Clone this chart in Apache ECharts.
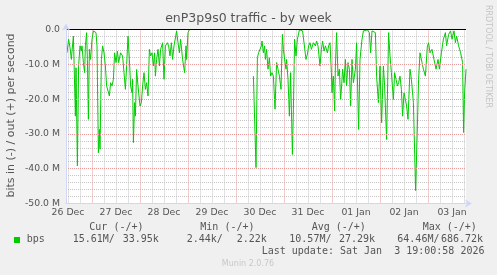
<!DOCTYPE html>
<html><head><meta charset="utf-8">
<script src="https://cdn.jsdelivr.net/npm/echarts@6/dist/echarts.min.js"></script>
<style>html,body{margin:0;padding:0;background:#f0f0f0}#c{width:497px;height:275px}</style>
</head><body><div id="c"></div>
<script>
// x values: hours since 26 Dec 00:00; y values: Mbit/s (in = negative)
const hours1 = [
 11.5,12.3,13.0,13.3,13.7,14.0,14.7,15.7,16.0,16.7,
 17.3,18.0,18.7,19.0,19.7,20.3,20.7,21.3,21.7,22.2,
 22.7,23.3,24.0,24.7,25.3,26.0,26.5,27.2,27.7,28.0,
 28.7,29.3,30.0,30.7,31.3,32.0,32.7,33.3,34.0,34.7,
 35.3,36.0,36.7,37.3,38.3,39.3,40.0,40.7,41.3,42.0,
 42.7,43.3,44.0,44.3,44.7,45.3,45.7,46.0,46.3,47.0,
 48.0,48.7,49.3,50.0,50.7,51.3,52.0,52.7,53.3,54.0,
 54.7,55.3,55.7,56.3,57.0,57.7,58.3,59.3,60.0,60.7,
 61.7,62.3,63.0,63.7,64.3,65.0,66.3,67.0,67.7,68.3,
 69.3,70.3,71.0,71.3,72.0,72.7];
const inValues1 = [
 -6.7,-2.8,-5.2,-4.7,-8.6,-6.2,-1.9,-24.9,-11.0,-39.2,
 -10.5,-4.7,-6.2,-4.7,-9.5,-12.4,-4.7,-0.9,-8.6,-25.8,
 -5.7,-8.6,-2.8,-0.4,-0.1,-0.9,-4.7,-35.4,-28.7,-34.4,
 -8.6,-4.7,-6.7,-10.5,-16.2,-16.7,-19.1,-15.3,-16.2,-14.3,
 -6.7,-9.5,-6.2,-9.5,-6.7,-7.6,-12.4,-17.2,-10.5,-1.9,
 -8.6,-16.2,-18.2,-14.3,-32.5,-21.0,-24.9,-18.2,-11.5,-16.2,
 -22.0,-21.0,-16.2,-12.4,-17.2,-15.3,-19.1,-5.7,-7.6,-6.7,
 -10.5,-6.7,-13.4,-8.6,-5.7,-10.5,-5.7,-3.8,-14.3,-4.7,
 -3.8,-4.7,-7.6,-3.8,-8.6,-4.7,-0.4,-3.8,-6.7,-2.8,
 -8.6,-12.4,-4.7,-8.6,-0.9,-0.1];
const hours2 = [
 104.7,105.0,106.0,106.7,107.3,108.0,108.7,109.0,109.7,110.3,
 110.7,111.3,112.0,112.7,113.3,114.0,114.7,115.5,116.3,117.0,
 117.7,118.5,119.2,119.7,120.3,121.0,121.3,122.0,122.7,123.3,
 124.2,124.7,125.3,126.0,126.7,127.7,128.7,129.3,130.3,131.0,
 131.7,132.3,133.0,133.7,134.7,135.7,136.3,137.0,138.0,138.7,
 139.3,140.0,140.7,141.7,142.3,143.0,143.7,144.0,144.3,144.7,
 145.3,145.7,146.3,147.0,147.7,148.3,148.7,149.3,150.0,150.7,
 151.3,152.0,152.7,153.3,154.0,154.7,
 155.7,156.3,157.3,158.0,159.0,159.7,160.7,161.7,162.7,163.3,164.0,165.0,165.7,
 166.3,167.2,168.0,168.8,169.7,170.3,171.3,172.3,173.0,173.7,174.7,
 175.3,176.0,176.7,177.3,178.0,178.7,179.3,180.0,180.7,181.3,
 182.0,183.0,183.7,184.7,185.8,186.7,187.3,188.0,189.0,189.7,
 190.7,191.7,192.3,193.0,194.0,195.0,196.0,197.0,197.7,198.7,
 199.7,200.7,201.3,202.3,203.3,204.0,205.0,205.7,206.3,207.3,
 208.3,209.3,209.8,210.3,211.0];
const inValues2 = [
 -13.4,-12.9,-39.7,-8.1,-6.7,-6.2,-4.7,-3.3,-6.7,-4.7,
 -8.6,-5.7,-11.4,-8.1,-13.4,-12.4,-13.4,-22.9,-9.5,-11.4,
 -13.4,-17.2,-1.4,-5.7,-8.6,-11.4,-8.6,-14.3,-24.9,-12.4,
 -35.9,-22.9,-2.8,-7.6,-2.8,-0.1,-0.4,-0.4,-0.1,-8.6,
 -7.1,-4.7,-3.8,-5.7,-3.8,-4.7,-3.3,-4.7,-10.5,-5.7,
 -3.3,-6.2,-4.7,-6.7,-4.7,-3.8,-12.4,-18.2,-15.3,-13.4,
 -23.4,-10.5,-0.9,-13.4,-11.4,-20.1,-17.2,-11.4,-15.3,-8.6,
 -16.2,-9.5,-11.4,-22.0,-8.6,-15.3,
 -11.4,-3.8,-28.7,-8.6,-2.8,-0.4,-0.4,-0.1,-0.9,-6.7,-0.4,-0.1,-0.9,
 -13.4,-21.0,-10.5,-26.8,-10.5,-16.2,-31.6,-0.9,-7.6,-12.4,-20.1,
 -12.4,-14.3,-16.2,-15.3,-13.4,-17.2,-24.9,-18.2,-20.1,-22.0,
 -25.8,-11.4,-14.3,-21.0,-46.3,-27.7,-14.3,-6.7,-9.5,-11.4,
 -13.4,-4.7,-3.8,-6.7,-5.7,-8.6,-11.4,-8.6,-11.4,-6.7,
 -2.8,-0.9,-4.7,-1.4,-0.4,-2.8,-0.4,-3.8,-1.9,-4.7,
 -6.7,-9.5,-29.6,-18.2,-11.4];

const dayLabels = ['26 Dec','27 Dec','28 Dec','29 Dec','30 Dec','31 Dec','01 Jan','02 Jan','03 Jan'];
const dayLabelHours = [12,36,60,84,108,132,156,180,204];
const xStart = 11, xEnd = 211;
const legendHeaders = ['Cur (-/+)','Min (-/+)','Avg (-/+)','Max (-/+)'];
const legendValues = ['15.61M/','33.95k','2.44k/','2.22k','10.57M/','27.29k','64.46M/','686.72k'];
const seriesName = 'bps';
const lastUpdate = 'Last update: Sat Jan  3 19:00:58 2026';

const gridHours = [];
for (let h = xStart; h <= xEnd; h++) gridHours.push(String(h));

const seg1 = hours1.map((h, i) => [h, inValues1[i]]);
const seg2 = hours2.map((h, i) => [h, inValues2[i]]);

const chart = echarts.init(document.getElementById('c'), null, {renderer: 'canvas'});
const SANS = 'DejaVu Sans';
const MONO = 'DejaVu Sans Mono';
const txtCol = '#555';
const gray = '#c4c4c4';
const red = '#e89a9a';
function txt(text, x, y, opts) {
  opts = opts || {};
  return {
    type: 'text', x: x, y: y, rotation: opts.rotation || 0, silent: true,
    style: {
      text: text, x: 0, y: 0, fill: opts.fill || txtCol,
      font: opts.font || ('10px "' + MONO + '"'),
      textAlign: opts.align || 'left', align: opts.align || 'left',
      textVerticalAlign: 'middle', verticalAlign: 'middle'
    }
  };
}
const legendX = [72.7, 122.7, 186.7, 236.7, 289.3, 339, 397.3, 441];
const headerX = [89.3, 200.3, 311.7, 422.7];
const graphics = [
  txt('enP3p9s0 traffic - by week', 248.5, 19, {align: 'center', font: '12.5px "' + SANS + '"'}),
  txt('bits in (-) / out (+) per second', 11, 115.5, {align: 'center', rotation: Math.PI / 2, font: '11px "' + SANS + '"'}),
  txt('RRDTOOL / TOBI OETIKER', 488.5, 5, {rotation: -Math.PI / 2, fill: '#c4c4c4', font: '8px "' + SANS + '"'}),
  txt(seriesName, 26.7, 239.7),
  txt(lastUpdate, 261.7, 251.7),
  txt('Munin 2.0.76', 248, 264, {align: 'center', fill: '#c8c8c8', font: '8px "' + SANS + '"'}),
  {type: 'rect', shape: {x: 14, y: 237, width: 6, height: 6}, style: {fill: '#00cc00'}, silent: true}
];
legendHeaders.forEach((t, i) => graphics.push(txt(t, headerX[i], 227.3)));
legendValues.forEach((t, i) => graphics.push(txt(t, legendX[i], 239.7)));

const lineStyle = {color: '#00cc00', width: 1};
chart.setOption({
  animation: false,
  backgroundColor: '#f0f0f0',
  grid: {left: 66, right: 31, top: 29.5, bottom: 71.5, show: true, backgroundColor: '#ffffff', borderWidth: 0, containLabel: false},
  xAxis: [
    {type: 'value', min: xStart, max: xEnd, position: 'bottom', z: 5,
     axisLine: {show: true, onZero: false, lineStyle: {color: '#cfd6f8', width: 1}, symbol: ['none', 'arrow'], symbolSize: [6, 7], symbolOffset: [0, 6]},
     axisTick: {show: false}, axisLabel: {show: false}, splitLine: {show: false}},
    {type: 'category', data: gridHours, boundaryGap: false, position: 'bottom',
     axisLine: {show: false}, axisTick: {show: false},
     axisLabel: {show: true, interval: (i, v) => dayLabelHours.indexOf(Number(v)) >= 0,
       formatter: v => { const k = dayLabelHours.indexOf(Number(v)); return k >= 0 ? dayLabels[k] : ''; },
       color: txtCol, fontFamily: SANS, fontSize: 9.3, margin: 5},
     splitLine: {show: true, interval: (i, v) => Number(v) % 6 === 0 && Number(v) % 24 !== 0,
       lineStyle: {color: gray, width: 1, type: [1, 1]}}},
    {type: 'category', data: gridHours, boundaryGap: false, position: 'bottom',
     axisLine: {show: false}, axisTick: {show: false}, axisLabel: {show: false},
     splitLine: {show: true, interval: (i, v) => Number(v) % 24 === 0,
       lineStyle: {color: red, width: 1, type: [1, 1]}}}
  ],
  yAxis: [
    {type: 'value', min: -50, max: 0, interval: 2, position: 'left',
     axisLine: {show: false}, axisTick: {show: false}, axisLabel: {show: false},
     splitLine: {show: true, lineStyle: {color: ['rgba(0,0,0,0)', gray, gray, gray, gray], width: 1, type: [1, 1]}}},
    {type: 'value', min: -50, max: 0, interval: 10, position: 'left', z: 5,
     axisLine: {show: true, onZero: false, lineStyle: {color: '#cfd6f8', width: 1}, symbol: ['none', 'arrow'], symbolSize: [6, 7], symbolOffset: [0, 6]},
     axisTick: {show: false},
     axisLabel: {color: txtCol, fontFamily: SANS, fontSize: 9.3, margin: 6,
       formatter: v => v === 0 ? '0.0' : v.toFixed(1) + ' M'},
     splitLine: {show: true, lineStyle: {color: red, width: 1, type: [1, 1]}}}
  ],
  series: [
    {type: 'line', name: seriesName, xAxisIndex: 0, yAxisIndex: 1, data: seg1, symbol: 'none', lineStyle: lineStyle, connectNulls: false,
     markLine: {silent: true, symbol: 'none', label: {show: false}, lineStyle: {color: '#000', width: 1, type: 'solid'}, data: [{yAxis: 0}]}},
    {type: 'line', name: seriesName, xAxisIndex: 0, yAxisIndex: 1, data: seg2, symbol: 'none', lineStyle: lineStyle, connectNulls: false}
  ],
  graphic: graphics
});
</script></body></html>
